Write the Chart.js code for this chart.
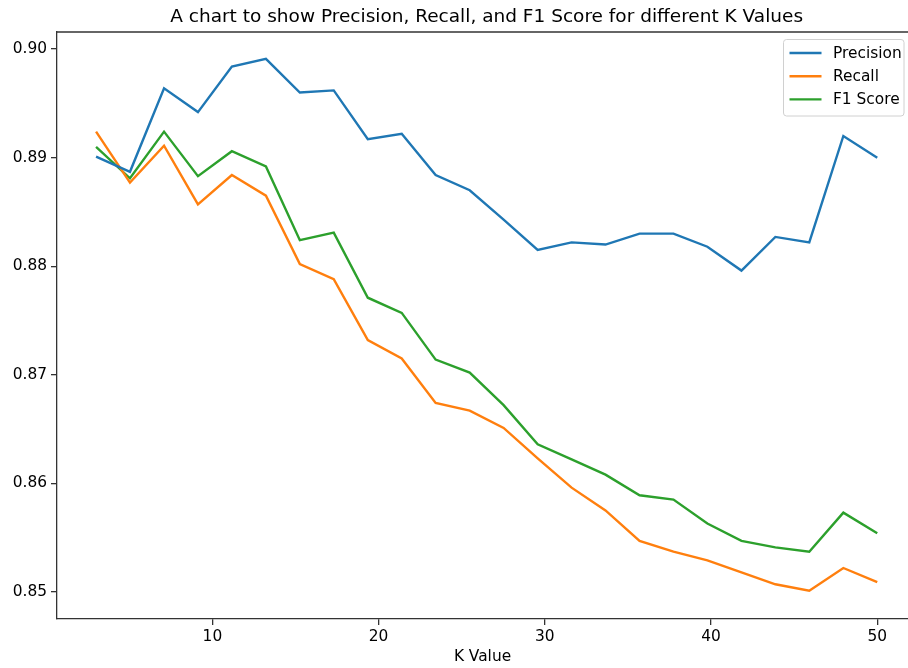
<!DOCTYPE html>
<html>
<head>
<meta charset="utf-8">
<script src="https://cdn.jsdelivr.net/npm/chart.js@4"></script>
<style>
  html, body { margin: 0; padding: 0; background: #fff; }
  #wrap { width: 908px; height: 668px; }
</style>
</head>
<body>
<div id="wrap"><canvas id="chart" width="908" height="668"></canvas></div>
<script>
// values
const kValues = [3, 5.04, 7.09, 9.13, 11.17, 13.22, 15.26, 17.3, 19.35, 21.39, 23.43, 25.48,
  27.52, 29.57, 31.61, 33.65, 35.7, 37.74, 39.78, 41.83, 43.87, 45.91, 47.96, 50];
const precision = [0.8901, 0.8887, 0.8964, 0.8942, 0.8984, 0.8991, 0.8960, 0.8962, 0.8917, 0.8922, 0.8884, 0.8870,
  0.8843, 0.8815, 0.8822, 0.8820, 0.8830, 0.8830, 0.8818, 0.8796, 0.8827, 0.8822, 0.8920, 0.8900];
const recall = [0.8924, 0.8877, 0.8911, 0.8857, 0.8884, 0.8865, 0.8802, 0.8788, 0.8732, 0.8715, 0.8674, 0.8667,
  0.8651, 0.8623, 0.8596, 0.8575, 0.8547, 0.8537, 0.8529, 0.8518, 0.8507, 0.8501, 0.8522, 0.8509];
const f1Score = [0.8910, 0.8881, 0.8924, 0.8883, 0.8906, 0.8892, 0.8824, 0.8831, 0.8771, 0.8757, 0.8714, 0.8702,
  0.8672, 0.8636, 0.8622, 0.8608, 0.8589, 0.8585, 0.8563, 0.8547, 0.8541, 0.8537, 0.8573, 0.8554];
const xTicks = [10, 20, 30, 40, 50];
const yTicks = [0.85, 0.86, 0.87, 0.88, 0.89, 0.90];
const seriesNames = ['Precision', 'Recall', 'F1 Score'];
const colors = ['#1f77b4', '#ff7f0e', '#2ca02c'];
const titleText = 'A chart to show Precision, Recall, and F1 Score for different K Values';

const FONT = "'DejaVu Sans', sans-serif";
const AXIS = '#333';

function points(ys) {
  return kValues.map((k, i) => ({ x: k, y: ys[i] }));
}

// title centred on the full (partly cropped) axes, plus top spine and legend box
const extras = {
  id: 'extras',
  afterDraw(chart) {
    const ctx = chart.ctx;
    const area = chart.chartArea;
    const xs = chart.scales.x;
    ctx.save();

    ctx.strokeStyle = AXIS;
    ctx.lineWidth = 1.3;
    ctx.beginPath();
    ctx.moveTo(area.left, area.top);
    ctx.lineTo(area.right, area.top);
    ctx.stroke();

    ctx.fillStyle = '#000';
    ctx.font = '18.5px ' + FONT;
    ctx.textAlign = 'center';
    ctx.textBaseline = 'middle';
    const cx = (xs.getPixelForValue(0.65) + xs.getPixelForValue(52.35)) / 2;
    ctx.fillText(titleText, cx, 17);

    // legend
    const bx = 783.5, by = 39.5, bw = 120.5, bh = 76.5, r = 3;
    ctx.beginPath();
    ctx.roundRect(bx, by, bw, bh, r);
    ctx.fillStyle = 'rgba(255,255,255,0.8)';
    ctx.fill();
    ctx.strokeStyle = '#d0d0d0';
    ctx.lineWidth = 1;
    ctx.stroke();

    ctx.font = '15.4px ' + FONT;
    ctx.textAlign = 'left';
    chart.data.datasets.forEach((ds, i) => {
      const y = 53 + i * 23.2;
      ctx.strokeStyle = ds.borderColor;
      ctx.lineWidth = 2.4;
      ctx.beginPath();
      ctx.moveTo(789.5, y);
      ctx.lineTo(821.5, y);
      ctx.stroke();
      ctx.fillStyle = '#000';
      ctx.fillText(ds.label, 833, y + 1);
    });
    ctx.restore();
  }
};

new Chart(document.getElementById('chart').getContext('2d'), {
  type: 'line',
  data: {
    datasets: [precision, recall, f1Score].map((ys, i) => ({
      label: seriesNames[i],
      data: points(ys),
      borderColor: colors[i],
      backgroundColor: colors[i],
      borderWidth: 2.4,
      pointRadius: 0,
      tension: 0,
      fill: false
    }))
  },
  options: {
    responsive: false,
    animation: false,
    layout: { padding: { top: 32, right: 0, left: 0, bottom: 0 } },
    plugins: {
      legend: { display: false },
      title: { display: false },
      tooltip: { enabled: false }
    },
    scales: {
      x: {
        type: 'linear',
        min: 0.65,
        max: 51.85,
        afterFit(scale) { scale.height = 49; },
        afterBuildTicks(scale) { scale.ticks = xTicks.map(v => ({ value: v })); },
        grid: { drawOnChartArea: false, drawTicks: true, tickLength: 6, color: AXIS, lineWidth: 1.3 },
        border: { color: AXIS, width: 1.3 },
        ticks: {
          color: '#000',
          font: { family: FONT, size: 15.4 },
          padding: 3,
          maxRotation: 0,
          callback: v => String(v)
        },
        title: {
          display: true,
          text: 'K Value',
          color: '#000',
          font: { family: FONT, size: 15.4 },
          padding: { top: 0, bottom: 2 }
        }
      },
      y: {
        min: 0.84750,
        max: 0.90158,
        afterFit(scale) { scale.width = 57; },
        afterBuildTicks(scale) { scale.ticks = yTicks.map(v => ({ value: v })); },
        grid: { drawOnChartArea: false, drawTicks: true, tickLength: 6, color: AXIS, lineWidth: 1.3 },
        border: { color: AXIS, width: 1.3 },
        ticks: {
          color: '#000',
          font: { family: FONT, size: 15.4 },
          padding: 4,
          callback: v => v.toFixed(2)
        }
      }
    }
  },
  plugins: [extras]
});
</script>
</body>
</html>
